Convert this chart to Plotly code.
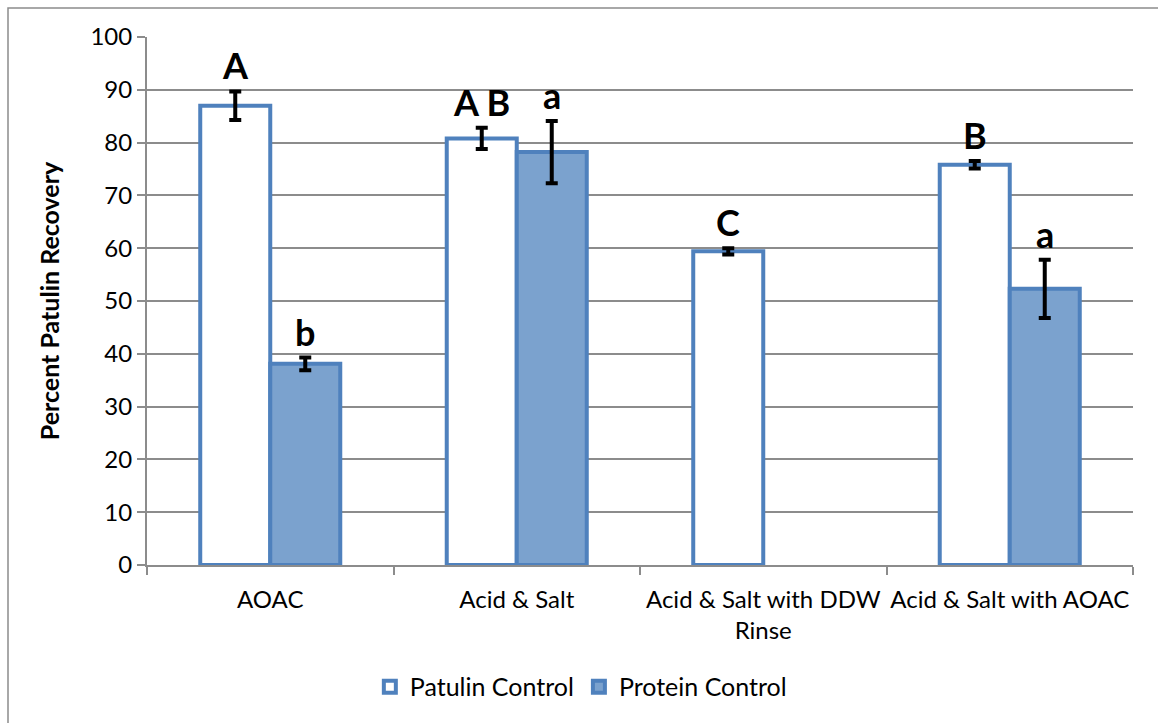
import plotly.graph_objects as go

# Recovery data (percent) with standard deviations and significance letters
categories = ["AOAC", "Acid & Salt", "Acid & Salt with DDW<br>Rinse", "Acid & Salt with AOAC"]
patulin_values = [87.0, 80.8, 59.4, 75.8]
patulin_errors = [2.7, 2.0, 0.6, 0.7]
protein_values = [38.1, 78.2, None, 52.3]
protein_errors = [1.2, 5.9, None, 5.5]
patulin_letters = ["A", "A B", "C", "B"]
protein_letters = ["b", "a", "", "a"]

FONT = "Lato"
EDGE = "#4F81BD"
GRID = "#8C8C8C"
BARGAP = 0.432

fig = go.Figure()
fig.add_trace(go.Bar(
    name="Patulin Control", x=categories, y=patulin_values,
    marker=dict(color="white", line=dict(color=EDGE, width=4)),
    error_y=dict(type="data", array=patulin_errors, color="black", thickness=4, width=6),
))
fig.add_trace(go.Bar(
    name="Protein Control", x=categories, y=protein_values,
    marker=dict(color="#7BA2CE", line=dict(color=EDGE, width=4)),
    error_y=dict(type="data", array=protein_errors, color="black", thickness=4, width=6),
))

# Significance letters above each error bar
offset = (1 - BARGAP) / 4
for i, cat in enumerate(categories):
    for vals, errs, letters, sgn in ((patulin_values, patulin_errors, patulin_letters, -1),
                                     (protein_values, protein_errors, protein_letters, 1)):
        if not letters[i] or vals[i] is None:
            continue
        fig.add_annotation(
            x=i + sgn * offset, y=vals[i] + errs[i], xref="x", yref="y",
            text=f"<b>{letters[i]}</b>", showarrow=False, yanchor="bottom", yshift=2,
            font=dict(family=FONT, size=36, color="black"),
        )

# Outer chart frame
fig.add_shape(type="rect", xref="paper", yref="paper",
              x0=(8 - 147) / 986, x1=1.2, y0=-0.6, y1=(565 - 8) / 528,
              line=dict(color=GRID, width=1.5), layer="below")

fig.update_layout(
    width=1158, height=723,
    margin=dict(l=147, r=25, t=37, b=158, autoexpand=False),
    paper_bgcolor="white", plot_bgcolor="white",
    barmode="group", bargap=BARGAP, bargroupgap=0,
    font=dict(family=FONT, size=24, color="black"),
    showlegend=True,
    legend=dict(orientation="h", x=0.44, xanchor="center", y=-0.231, yanchor="middle",
                font=dict(family=FONT, size=25), itemclick=False),
    xaxis=dict(
        type="category", range=[-0.5, 3.5], tickson="boundaries", ticks="outside",
        ticklen=8, tickwidth=2, tickcolor=GRID, showgrid=False, tickangle=0, automargin=False,
        showline=True, linecolor=GRID, linewidth=2, ticklabelstandoff=12,
        tickfont=dict(family=FONT, size=24),
    ),
    yaxis=dict(
        range=[0, 100], dtick=10, ticks="outside", ticklen=8, tickwidth=2, tickcolor=GRID,
        showgrid=True, gridcolor=GRID, gridwidth=1.5, showline=True, linecolor=GRID,
        linewidth=2, zeroline=False, tickfont=dict(family=FONT, size=24), automargin=False,
        title=dict(text="<b>Percent Patulin Recovery</b>", font=dict(family=FONT, size=25), standoff=24),
    ),
)

fig.write_html("out.html")
